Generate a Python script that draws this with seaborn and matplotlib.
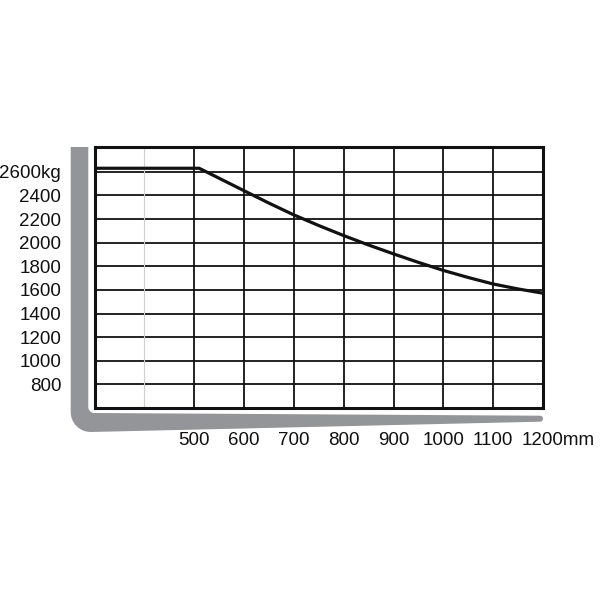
import numpy as np
import matplotlib
matplotlib.use("Agg")
import matplotlib.pyplot as plt
import matplotlib.transforms as mtrans
from matplotlib.patches import Polygon
import seaborn as sns

# ==========================================
# DATA (load chart: capacity vs load centre)
# ==========================================
load_centre_mm = [300, 510, 600, 650, 700, 750, 800, 850, 900, 950,
                  1000, 1050, 1100, 1150, 1200]
capacity_kg    = [2630, 2630, 2440, 2335, 2235, 2145, 2060, 1980, 1905, 1833,
                  1765, 1705, 1650, 1608, 1572]

y_ticks  = [800, 1000, 1200, 1400, 1600, 1800, 2000, 2200, 2400, 2600]
y_labels = ["800", "1000", "1200", "1400", "1600", "1800", "2000", "2200", "2400", "2600kg"]
x_ticks  = [500, 600, 700, 800, 900, 1000, 1100, 1200]
x_labels = ["500", "600", "700", "800", "900", "1000", "1100", "1200mm"]

GREY = "#939598"
INK  = "#111111"

sns.set_style("white")
plt.rcParams["font.family"] = ["Liberation Sans", "DejaVu Sans"]

fig = plt.figure(figsize=(6, 6), dpi=100)

# ---- grey fork silhouette drawn in pixel coordinates ----
bg = fig.add_axes([0, 0, 1, 1], zorder=0)
bg.set_xlim(0, 600)
bg.set_ylim(600, 0)
bg.axis("off")

def arc(cx, cy, r, a0, a1, n=20):
    t = np.radians(np.linspace(a0, a1, n))
    return np.column_stack([cx + r * np.cos(t), cy + r * np.sin(t)])

outer_r, inner_r = 20, 6
pts = [[70.7, 147], [88.3, 147]]
pts += arc(88.3 + inner_r, 413 - inner_r, inner_r, 180, 90).tolist()
pts += [[540, 415.7]]
pts += arc(540, 418.7, 3, -90, 90, 10).tolist()
pts += [[70.7 + outer_r, 432]]
pts += arc(70.7 + outer_r, 432 - outer_r, outer_r, 90, 180).tolist()
bg.add_patch(Polygon(pts, closed=True, facecolor=GREY, edgecolor="none"))

# ---- chart ----
ax = fig.add_axes([94.5 / 600, 192 / 600, 448.5 / 600, 261 / 600], zorder=1)
ax.set_facecolor("white")

sns.lineplot(x=load_centre_mm, y=capacity_kg, ax=ax, color=INK, linewidth=2.3, zorder=5)

ax.set_xlim(300, 1200)
ax.set_ylim(600, 2810)
ax.set_yticks(y_ticks)
ax.set_yticklabels(y_labels)
ax.set_xticks(x_ticks)
ax.set_xticklabels(x_labels)
ax.set_xlabel("")
ax.set_ylabel("")

ax.grid(True, color=INK, linewidth=1.3)
ax.axvline(400, color="#d0d0d0", linewidth=0.8, zorder=1)
ax.tick_params(axis="both", length=0, labelsize=13.5, colors=INK)
ax.tick_params(axis="y", pad=24)
ax.tick_params(axis="x", pad=17.5)

# put the unit after "1200" so the number stays centred on its tick
last = ax.get_xticklabels()[-1]
last.set_horizontalalignment("left")
last.set_transform(last.get_transform() + mtrans.ScaledTranslation(-21 / 100, 0, fig.dpi_scale_trans))

for side in ax.spines.values():
    side.set_visible(True)
    side.set_color(INK)
    side.set_linewidth(2.2)

fig.savefig("out.png", dpi=100, facecolor="white")
